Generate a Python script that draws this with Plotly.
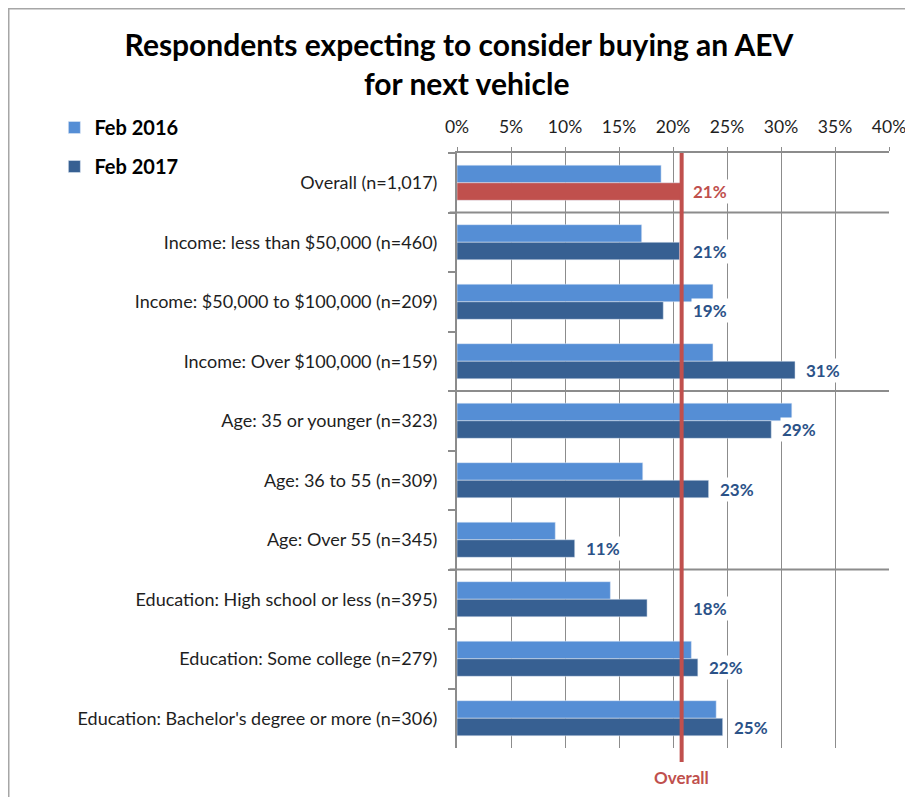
import plotly.graph_objects as go

categories = [
    "Overall (n=1,017)",
    "Income: less than $50,000 (n=460)",
    "Income: $50,000 to $100,000 (n=209)",
    "Income: Over $100,000 (n=159)",
    "Age: 35 or younger (n=323)",
    "Age: 36 to 55 (n=309)",
    "Age: Over 55 (n=345)",
    "Education: High school or less (n=395)",
    "Education: Some college (n=279)",
    "Education: Bachelor's degree or more (n=306)",
]
feb2016 = [18.9, 17.1, 23.7, 23.7, 31.0, 17.2, 9.1, 14.2, 21.7, 24.0]
feb2017 = [20.8, 20.6, 19.1, 31.3, 29.1, 23.3, 10.9, 17.6, 22.3, 24.6]
tick_vals = [0, 5, 10, 15, 20, 25, 30, 35, 40]
tick_text = ["0%", "5%", "10%", "15%", "20%", "25%", "30%", "35%", "40%"]
group_boundaries = [0.5, 3.5, 6.5]

overall_value = feb2017[0]

C16 = "#558ED5"
C17 = "#376092"
RED = "#C0504D"
GRID = "#8C8C8C"
TXT = "#1E1E1E"
LBL = "#2B5288"
FONT = "Lato"

fig = go.Figure()
fig.add_trace(go.Bar(
    x=feb2016, y=categories, orientation="h", name="Feb 2016",
    marker=dict(color=C16), offsetgroup="a", legendgroup="a",
    hoverinfo="x+y",
))
fig.add_trace(go.Bar(
    x=[None] + feb2017[1:], y=categories, orientation="h", name="Feb 2017",
    marker=dict(color=C17), offsetgroup="b", legendgroup="b",
    hoverinfo="x+y",
))
fig.add_trace(go.Bar(
    x=[feb2017[0]], y=[categories[0]], orientation="h", name="Overall Feb 2017",
    marker=dict(color=RED), offsetgroup="b", showlegend=False,
    hoverinfo="x+y",
))

shapes = []
for b in group_boundaries:
    shapes.append(dict(type="line", xref="x domain", yref="y",
                       x0=-0.017, x1=1.0, y0=b, y1=b,
                       line=dict(color=GRID, width=2), layer="below"))
# overall reference line
shapes.append(dict(type="line", xref="x", yref="y domain",
                   x0=overall_value, x1=overall_value, y0=-0.0235, y1=1,
                   line=dict(color=RED, width=4), layer="above"))
# chart frame (top and left edges)
shapes.append(dict(type="line", xref="paper", yref="paper",
                   x0=-1.04, x1=1.08, y0=739.5 / 595, y1=739.5 / 595,
                   line=dict(color="#A6A6A6", width=2)))
shapes.append(dict(type="line", xref="paper", yref="paper",
                   x0=-448.5 / 432, x1=-448.5 / 432, y0=-0.1, y1=739.5 / 595,
                   line=dict(color="#A6A6A6", width=2)))

annotations = []
for cat, v in zip(categories, feb2017):
    is_overall = cat == categories[0]
    # labels that would collide with the overall line are moved past it
    anchor = overall_value if (overall_value - 4.5 < v <= overall_value) else v
    annotations.append(dict(
        x=anchor, y=cat, xref="x", yref="y",
        xshift=28, yshift=-9, showarrow=False,
        text=f"{round(v)}%", bgcolor="white",
        font=dict(family=FONT, size=17, color=RED if is_overall else LBL, weight="bold"),
    ))
annotations.append(dict(
    x=overall_value, y=-0.0504, xref="x", yref="paper", showarrow=False,
    yanchor="middle",
    text="Overall", font=dict(family=FONT, size=17, color=RED, weight="bold"),
))
annotations.append(dict(
    x=0.022, y=(740 - 75) / 595, xref="paper", yref="paper", showarrow=False,
    xanchor="center", yanchor="middle",
    text="for next vehicle", font=dict(family=FONT, size=30, color="black", weight="bold"),
))

fig.update_layout(
    width=913, height=797,
    margin=dict(l=449, r=32, t=145, b=57),
    paper_bgcolor="white", plot_bgcolor="white",
    title=dict(text="Respondents expecting to consider buying an AEV",
               x=451 / 913, xref="container", xanchor="center",
               y=1 - 37 / 797, yref="container", yanchor="middle",
               font=dict(family=FONT, size=30, color="black", weight="bold")),
    barmode="group", bargap=0.41, bargroupgap=0,
    font=dict(family=FONT, color=TXT),
    legend=dict(x=-0.932, y=(740 - 139) / 595, xanchor="left", yanchor="middle",
                font=dict(family=FONT, size=20, color="black", weight="bold"),
                tracegroupgap=10, bgcolor="rgba(0,0,0,0)"),
    xaxis=dict(range=[0, 40], side="top", tickvals=tick_vals, ticktext=tick_text,
               showgrid=True, gridcolor=GRID, gridwidth=1,
               ticks="outside", ticklen=4, tickcolor=GRID,
               showline=True, linecolor=GRID, linewidth=2,
               ticklabelstandoff=7,
               zeroline=False, tickfont=dict(family=FONT, size=17.5, color=TXT)),
    yaxis=dict(type="category", categoryorder="array", categoryarray=categories,
               autorange="reversed", tickson="boundaries",
               ticks="outside", ticklen=7, tickcolor=GRID, tickwidth=2,
               showline=True, linecolor=GRID, linewidth=2, showgrid=False,
               ticklabelstandoff=14,
               tickfont=dict(family=FONT, size=18, color=TXT)),
    shapes=shapes, annotations=annotations,
)

fig.write_html("out.html")
